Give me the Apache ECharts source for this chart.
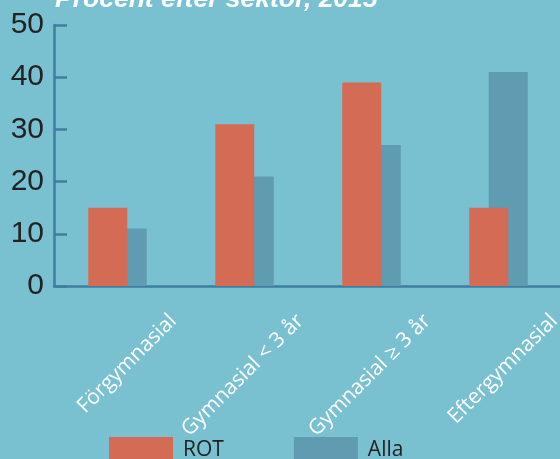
<!DOCTYPE html>
<html>
<head>
<meta charset="utf-8">
<script src="https://cdn.jsdelivr.net/npm/echarts@6/dist/echarts.min.js"></script>
<style>
  html, body { margin: 0; padding: 0; background: #79c1d1; }
  #chart { width: 560px; height: 459px; }
</style>
</head>
<body>
<div id="chart"></div>
<script>
const categories = ['Förgymnasial', 'Gymnasial < 3 år', 'Gymnasial ≥ 3 år', 'Eftergymnasial']
const rotValues = [15, 31, 39, 15]
const allaValues = [11, 21, 27, 41]
const yTicks = [0, 10, 20, 30, 40, 50]

const axisColor = '#3f7d9e'

const chart = echarts.init(document.getElementById('chart'))
chart.setOption({
  backgroundColor: '#79c1d1',
  animation: false,
  graphic: [
    {
      type: 'text',
      x: 55,
      y: 13,
      style: {
        text: 'Procent efter sektor, 2015',
        font: 'italic bold 26.5px "Liberation Sans", Arial, sans-serif',
        fill: '#ffffff',
        verticalAlign: 'bottom'
      }
    }
  ],
  legend: {
    data: ['ROT', 'Alla'],
    icon: 'rect',
    left: 109,
    top: 437,
    padding: 0,
    itemWidth: 64,
    itemHeight: 26,
    itemGap: 70,
    textStyle: { fontFamily: '"Open Sans", sans-serif', fontSize: 21, color: '#222', padding: [0, 0, 0, 5] }
  },
  grid: { left: 54, top: 25, width: 508, height: 261, outerBoundsMode: 'none' },
  xAxis: [
    {
      type: 'category',
      data: categories,
      axisLine: { lineStyle: { color: axisColor, width: 2.5 } },
      axisTick: { inside: true, length: 7, lineStyle: { color: axisColor, width: 2.5 } },
      axisLabel: { show: false }
    },
    {
      // labels sit at the category boundaries in the original
      type: 'category',
      position: 'bottom',
      boundaryGap: false,
      data: [''].concat(categories),
      axisLine: { show: false },
      axisTick: { show: false },
      axisLabel: {
        interval: 0,
        rotate: 45,
        margin: 24,
        padding: [0, 11, 0, 0],
        color: '#ffffff',
        fontFamily: '"Open Sans", sans-serif',
        fontSize: 21
      }
    }
  ],
  yAxis: {
    type: 'value',
    min: yTicks[0],
    max: yTicks[yTicks.length - 1],
    interval: 10,
    splitLine: { show: false },
    axisLine: { show: true, lineStyle: { color: axisColor, width: 2.5 } },
    axisTick: { show: true, inside: true, length: 13, lineStyle: { color: axisColor, width: 2.5 } },
    axisLabel: {
      margin: 10,
      color: '#222222',
      fontFamily: '"Liberation Sans", Arial, sans-serif',
      fontSize: 30
    }
  },
  series: [
    {
      name: 'ROT',
      type: 'bar',
      z: 3,
      data: rotValues,
      barWidth: 39,
      barGap: '-50%',
      itemStyle: { color: '#d46c55' }
    },
    {
      name: 'Alla',
      type: 'bar',
      z: 2,
      data: allaValues,
      barWidth: 39,
      barGap: '-50%',
      itemStyle: { color: '#5f9bb1' }
    }
  ]
})
</script>
</body>
</html>
